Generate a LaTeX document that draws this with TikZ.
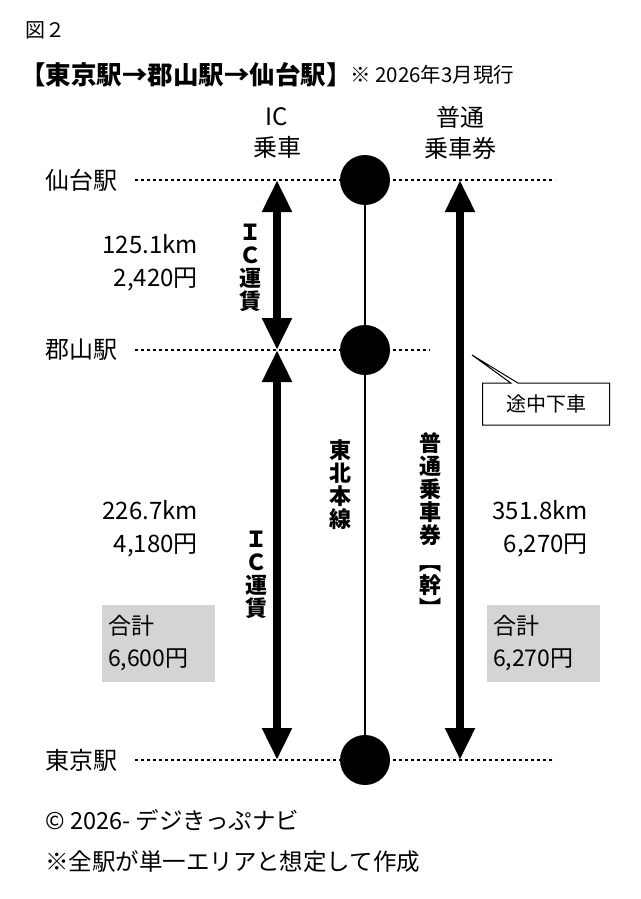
\documentclass[tikz,border=0pt]{standalone}
\usepackage{fontspec}
\setmainfont{Noto Sans CJK JP}
\usetikzlibrary{arrows.meta,shapes.callouts}
\begin{document}
\begin{tikzpicture}[x=1pt,y=-1pt,
  txt/.style={font=\fontsize{24}{28}\selectfont,inner sep=0pt},
  vtxt/.style={font=\fontsize{22}{23}\selectfont\bfseries,align=center,inner sep=0pt},
  dots/.style={line width=2.8pt,dash pattern=on 2.8pt off 3.2pt},
  big/.style={line width=8pt,{Triangle[width=28pt,length=32pt]}-{Triangle[width=28pt,length=32pt]}},
  stn/.style={circle,fill=black,minimum size=50pt,inner sep=0pt},
  sumbox/.style={fill=black!17,minimum width=113pt,minimum height=77pt,text width=100pt,align=left,font=\fontsize{23}{32}\selectfont,inner sep=6pt}]
\useasboundingbox (0,0) rectangle (640,899);
\node[txt,anchor=west,font=\fontsize{20}{24}\selectfont] (fig) at (25,30) {図２};
\node[txt,anchor=west,font=\fontsize{25.5}{29}\selectfont\bfseries] (title) at (20,75) {【東京駅→郡山駅→仙台駅】};
\node[txt,anchor=west,font=\fontsize{20.5}{24}\selectfont] (date) at (350,75) {※ 2026年3月現行};
\node[txt,align=center,font=\fontsize{24}{31}\selectfont] (ich) at (277,133) {IC\\乗車};
\node[txt,align=center,font=\fontsize{24}{31}\selectfont] (fh) at (460,133) {普通\\乗車券};
\node[txt,anchor=west] (s1) at (45,180) {仙台駅};
\node[txt,anchor=west] (s2) at (45,350) {郡山駅};
\node[txt,anchor=west] (s3) at (45,760) {東京駅};
\coordinate (d1a) at (135,180); \coordinate (d1b) at (555,180);
\coordinate (d2a) at (135,350); \coordinate (d2b) at (430,350);
\coordinate (d3a) at (135,760); \coordinate (d3b) at (555,760);
\draw[dots] (d1a) -- (d1b);
\draw[dots] (d2a) -- (d2b);
\draw[dots] (d3a) -- (d3b);
\node[stn] (c1) at (365,180) {};
\node[stn] (c2) at (365,350) {};
\node[stn] (c3) at (365,760) {};
\draw[line width=2pt] (c1) -- (c2) -- (c3);
\coordinate (a1) at (277,180); \coordinate (a2) at (277,350); \coordinate (a3) at (277,760);
\coordinate (b1) at (460,180); \coordinate (b3) at (460,760);
\draw[big] (a1) -- (a2);
\draw[big] (a2) -- (a3);
\draw[big] (b1) -- (b3);
\node[vtxt] (ic1) at (250,268) {Ｉ\\Ｃ\\運\\賃};
\node[vtxt] (ic2) at (256,575) {Ｉ\\Ｃ\\運\\賃};
\node[vtxt] (tb) at (340,485) {東\\北\\本\\線};
\node[vtxt] (fj) at (430,525) {普\\通\\乗\\車\\券\\[4pt]︻\\幹\\︼};
\node[txt,align=right,anchor=east,font=\fontsize{24}{33}\selectfont] (k1) at (198,263) {125.1km\\2,420円};
\node[txt,align=right,anchor=east,font=\fontsize{24}{33}\selectfont] (k2) at (198,529) {226.7km\\4,180円};
\node[txt,align=right,anchor=east,font=\fontsize{24}{33}\selectfont] (k3) at (588,529) {351.8km\\6,270円};
\node[sumbox] (g1) at (158,643) {合計\\6,600円};
\node[sumbox] (g2) at (543,643) {合計\\6,270円};
\node[rectangle callout,draw,line width=1pt,minimum width=127pt,minimum height=42pt,txt,font=\fontsize{20}{22}\selectfont,callout absolute pointer={(472,355)}] (tc) at (546,404) {途中下車};
\node[txt,anchor=west,font=\fontsize{23.5}{27}\selectfont] (cp) at (45,820) {© 2026- デジきっぷナビ};
\node[txt,anchor=west,font=\fontsize{23.5}{27}\selectfont] (nt) at (45,862) {※全駅が単一エリアと想定して作成};
\end{tikzpicture}
\end{document}
